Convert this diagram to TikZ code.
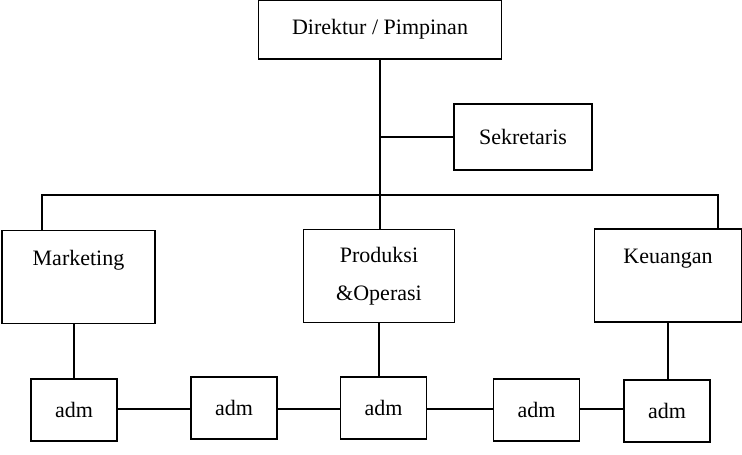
\documentclass[tikz,border=0pt]{standalone}
\usepackage{fontspec}
\setmainfont{Liberation Serif}
\usepackage{tikz}
\tikzstyle{jabatan} = [rectangle, draw, line width=1.3pt, inner sep=0pt, align=center, font=\fontsize{22}{38}\selectfont]
\tikzstyle{bagian} = [jabatan, minimum height=93pt]
\tikzstyle{admbox} = [jabatan, minimum width=86pt, minimum height=62pt]
\tikzstyle{garis} = [line width=1.3pt]

\begin{document}
\begin{tikzpicture}[x=1pt,y=-1pt]
            \useasboundingbox (0,0) rectangle (742,455);
            \node [jabatan, minimum width=243pt, minimum height=59pt] at (380,29.5) (dir) {Direktur / Pimpinan};
            \node [jabatan, minimum width=138pt, minimum height=66pt] at (523,137) (sek) {Sekretaris};
            \node [bagian, minimum width=153pt] at (78.5,277) (mkt) {Marketing\\ \mbox{}};
            \node [bagian, minimum width=151pt] at (379,276) (prod) {Produksi\\ \&Operasi};
            \node [bagian, minimum width=147pt] at (668,275.5) (keu) {Keuangan\\ \mbox{}};
            \node [admbox] at (74,410) (adm1) {adm};
            \node [admbox] at (234,408) (adm2) {adm};
            \node [admbox] at (383.5,408) (adm3) {adm};
            \node [admbox] at (536.5,410) (adm4) {adm};
            \node [admbox] at (667,411) (adm5) {adm};
            \coordinate (barL) at (42,195);
            \coordinate (barR) at (718,195);
            \coordinate (admL) at (0,409);
            \draw [garis] (dir.south) -- (dir.south |- prod.north);
            \draw [garis] (sek.west) -- (sek.west -| dir.south);
            \draw [garis] (barL |- mkt.north) -- (barL) -- (barR) -- (barR |- keu.north);
            \draw [garis] (adm1 |- mkt.south) -- (adm1);
            \draw [garis] (prod.south) -- (prod.south |- adm3.north);
            \draw [garis] (keu.south) -- (keu.south |- adm5.north);
            \draw [garis] (adm1.east |- admL) -- (adm2.west |- admL);
            \draw [garis] (adm2.east |- admL) -- (adm3.west |- admL);
            \draw [garis] (adm3.east |- admL) -- (adm4.west |- admL);
            \draw [garis] (adm4.east |- admL) -- (adm5.west |- admL);
\end{tikzpicture}
\end{document}
